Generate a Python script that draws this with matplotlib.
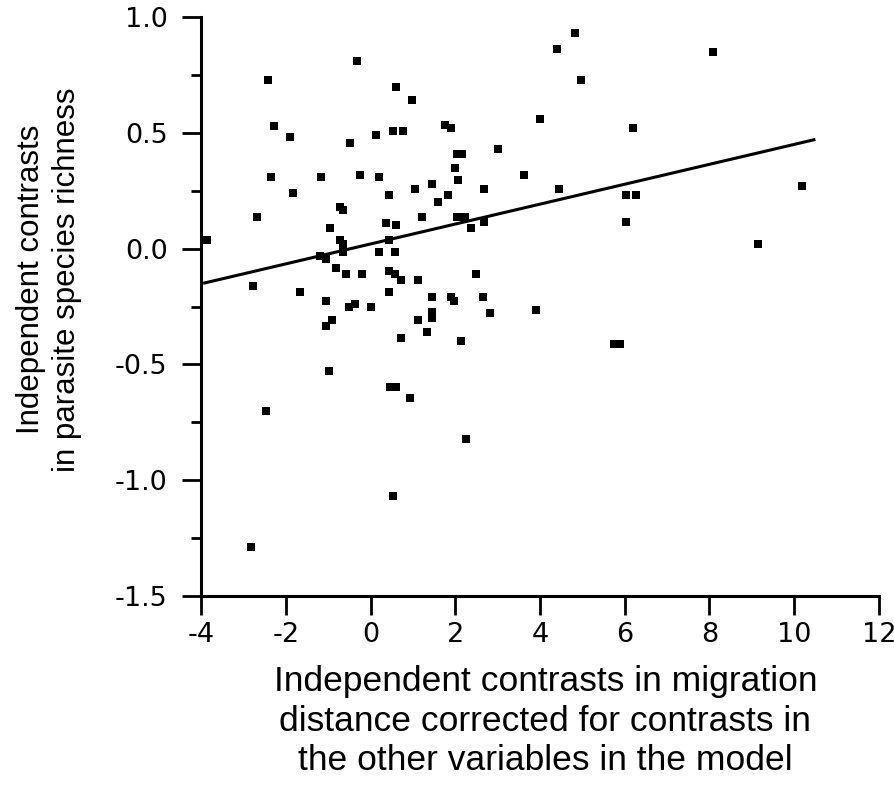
import numpy as np
import matplotlib
matplotlib.use("Agg")
import matplotlib.pyplot as plt
from matplotlib.ticker import MultipleLocator

# contrasts
contrast_x = [-0.31, -2.41, 0.61, 0.99, -2.27, -1.89, 1.75, 1.91, 4.0, -0.48,
              0.13, 0.52, 0.76, 2.05, 2.16, 3.0, 1.99, -2.35, -1.18, -0.25,
              0.21, 3.62, 2.07, 1.45, -1.82, 0.44, 1.06, 1.82, 1.60, 2.68,
              -0.73, -0.66, -2.67, 0.36, 0.60, 1.22, 2.05, 2.23, 2.37, 2.68,
              -0.96, -3.86, -0.73, -0.65, 0.43, -1.19, -1.05, -0.66, 0.20, 0.58,
              -0.81, -0.57, -0.20, 0.43, 0.58, 0.73, 1.11, 2.50, -2.77, -1.67,
              0.43, 1.44, 1.90, 1.97, 2.66, -1.06, -0.51, -0.36, 0.02, 2.81,
              3.91, 1.44, 1.44, -0.90, -1.06, 1.11, 1.34, 0.73, 2.13, -0.99,
              0.47, 0.59, 0.93, -2.46, 2.26, 0.54, -2.81, 4.82, 4.41, 8.09,
              4.97, 6.20, 4.46, 6.03, 6.26, 6.03, 10.18, 9.15, 5.75, 5.88]
contrast_y = [0.81, 0.73, 0.70, 0.64, 0.53, 0.48, 0.535, 0.52, 0.56, 0.455,
              0.49, 0.51, 0.51, 0.41, 0.41, 0.43, 0.35, 0.31, 0.31, 0.32,
              0.31, 0.32, 0.295, 0.28, 0.24, 0.23, 0.256, 0.23, 0.20, 0.256,
              0.18, 0.165, 0.137, 0.11, 0.10, 0.137, 0.137, 0.137, 0.088, 0.116,
              0.088, 0.037, 0.037, 0.02, 0.037, -0.03, -0.044, -0.016, -0.016, -0.016,
              -0.084, -0.11, -0.11, -0.097, -0.11, -0.136, -0.136, -0.11, -0.16, -0.186,
              -0.186, -0.21, -0.21, -0.226, -0.21, -0.226, -0.252, -0.24, -0.252, -0.28,
              -0.266, -0.275, -0.30, -0.31, -0.334, -0.31, -0.36, -0.386, -0.40, -0.53,
              -0.597, -0.597, -0.647, -0.70, -0.82, -1.07, -1.29, 0.93, 0.86, 0.85,
              0.73, 0.52, 0.256, 0.23, 0.23, 0.113, 0.27, 0.02, -0.41, -0.41]

# regression line
fit_x = [-3.95, 10.5]
fit_intercept = 0.02
fit_slope = 0.043

x_ticks = [-4, -2, 0, 2, 4, 6, 8, 10, 12]
y_ticks = [-1.5, -1.0, -0.5, 0.0, 0.5, 1.0]

label_font = ["Liberation Sans", "DejaVu Sans"]

fig = plt.figure(figsize=(8.95, 7.85), dpi=100)
ax = fig.add_axes([0.2246, 0.2408, 0.7575, 0.7375])

ax.scatter(contrast_x, contrast_y, marker="s", s=26, color="black", linewidths=0, zorder=3)
fit_y = [fit_intercept + fit_slope * v for v in fit_x]
ax.plot(fit_x, fit_y, color="black", lw=2.2, solid_capstyle="butt")

ax.set_xlim(-4, 12)
ax.set_ylim(-1.5, 1.0)
ax.set_xticks(x_ticks)
ax.set_yticks(y_ticks)
ax.set_xticklabels([str(t) for t in x_ticks])
ax.set_yticklabels(["%.1f" % t for t in y_ticks])
ax.yaxis.set_minor_locator(MultipleLocator(0.25))

for side in ["top", "right"]:
    ax.spines[side].set_visible(False)
for side in ["left", "bottom"]:
    ax.spines[side].set_linewidth(2.2)

ax.tick_params(axis="both", which="major", direction="out", length=14, width=2,
               labelsize=19.5, labelfontfamily="DejaVu Sans")
ax.tick_params(axis="x", which="major", pad=5)
ax.tick_params(axis="y", which="major", pad=10)
ax.tick_params(axis="y", which="minor", direction="out", length=7, width=2)

ax.set_xlabel("Independent contrasts in migration\ndistance corrected for contrasts in\nthe other variables in the model",
              fontsize=25.5, family=label_font, linespacing=1.24)
ax.xaxis.set_label_coords(0.508, -0.12)
ax.set_ylabel("Independent contrasts\nin parasite species richness",
              fontsize=22.5, family=label_font, linespacing=1.25)
ax.yaxis.set_label_coords(-0.1755, 0.547)

plt.savefig("out.png", dpi=100)
